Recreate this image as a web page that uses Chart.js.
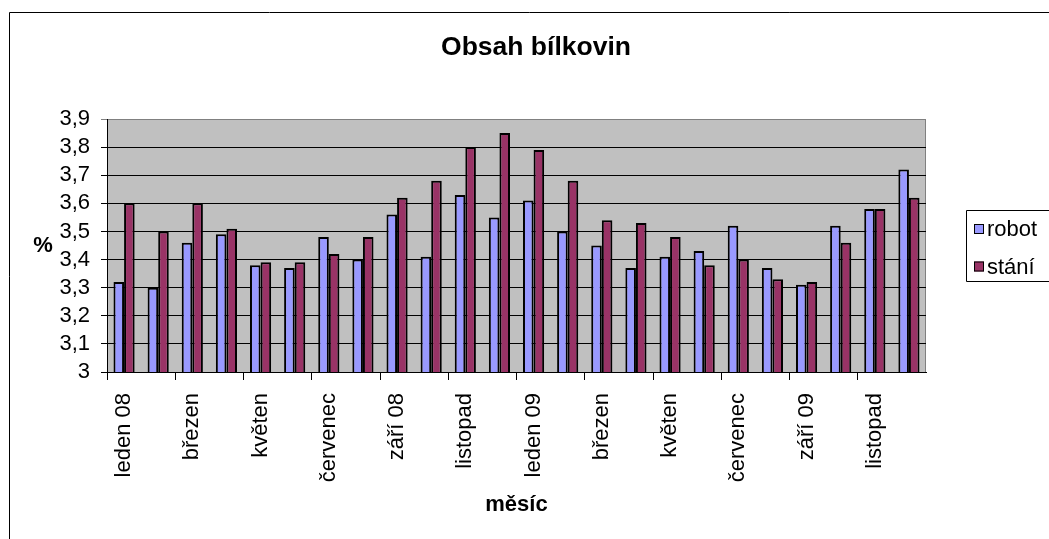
<!DOCTYPE html>
<html lang="cs">
<head>
<meta charset="utf-8">
<title>Obsah bílkovin</title>
<script src="https://cdn.jsdelivr.net/npm/chart.js@4/dist/chart.umd.min.js"></script>
<style>
  html, body { margin: 0; padding: 0; background: #ffffff; overflow: hidden; }
  canvas { display: block; }
</style>
</head>
<body>
<canvas id="chart" width="1049" height="539"></canvas>
<script>
// Měsíce sledovaného období (leden 2008 – prosinec 2009)
const months = [
  'leden 08', 'únor', 'březen', 'duben', 'květen', 'červen',
  'červenec', 'srpen', 'září 08', 'říjen', 'listopad', 'prosinec',
  'leden 09', 'únor', 'březen', 'duben', 'květen', 'červen',
  'červenec', 'srpen', 'září 09', 'říjen', 'listopad', 'prosinec'
];

// Obsah bílkovin v mléce (%) – dojicí robot
const robot = [3.32, 3.30, 3.46, 3.49, 3.38, 3.37, 3.48, 3.40, 3.56, 3.41, 3.63, 3.55,
               3.61, 3.50, 3.45, 3.37, 3.41, 3.43, 3.52, 3.37, 3.31, 3.52, 3.58, 3.72];

// Obsah bílkovin v mléce (%) – dojírna (stání)
const stani = [3.60, 3.50, 3.60, 3.51, 3.39, 3.39, 3.42, 3.48, 3.62, 3.68, 3.80, 3.85,
               3.79, 3.68, 3.54, 3.53, 3.48, 3.38, 3.40, 3.33, 3.32, 3.46, 3.58, 3.62];

const seriesNames = ['robot', 'stání'];
const chartTitle = 'Obsah bílkovin';
const xTitle = 'měsíc';
const yTitle = '%';
const yMin = 3, yMax = 3.9, yStep = 0.1;

const FONT = '"Liberation Sans", Arial, Helvetica, sans-serif';

// Šedé pozadí plochy grafu a její pravý okraj
const plotBackground = {
  id: 'plotBackground',
  beforeDraw(chart) {
    const { ctx, chartArea: a } = chart;
    ctx.save();
    ctx.fillStyle = '#c0c0c0';
    ctx.fillRect(a.left, a.top, a.right - a.left, a.bottom - a.top);
    ctx.strokeStyle = '#808080';
    ctx.lineWidth = 1;
    ctx.beginPath();
    ctx.moveTo(Math.round(a.right) - 0.5, a.top);
    ctx.lineTo(Math.round(a.right) - 0.5, a.bottom);
    ctx.stroke();
    ctx.restore();
  }
};

// Rámeček kolem celého grafu, nadpis, popisek osy Y a legenda s rámečkem
const decorations = {
  id: 'decorations',
  afterDraw(chart) {
    const { ctx, chartArea: a } = chart;
    ctx.save();

    // rámeček grafu
    ctx.strokeStyle = '#000000';
    ctx.lineWidth = 1;
    ctx.beginPath();
    ctx.moveTo(9.5, chart.height + 5);
    ctx.lineTo(9.5, 12.5);
    ctx.lineTo(chart.width + 5, 12.5);
    ctx.stroke();

    // nadpis grafu
    ctx.fillStyle = '#000000';
    ctx.font = 'bold 26.5px ' + FONT;
    ctx.textAlign = 'center';
    ctx.textBaseline = 'middle';
    ctx.fillText(chartTitle, 536, 48);

    // popisek osy Y (nerotovaný)
    ctx.font = 'bold 22px ' + FONT;
    ctx.fillText(yTitle, 43, (a.top + a.bottom) / 2);

    // legenda
    const ds = chart.data.datasets;
    const step = 37.5;
    const boxH = 71;
    const left = Math.round(a.right) + 40;
    const top = Math.round((a.top + a.bottom) / 2 - boxH / 2);
    ctx.beginPath();
    ctx.moveTo(chart.width + 5, top + 0.5);
    ctx.lineTo(left + 0.5, top + 0.5);
    ctx.lineTo(left + 0.5, top + boxH + 0.5);
    ctx.lineTo(chart.width + 5, top + boxH + 0.5);
    ctx.stroke();

    ctx.font = '22px ' + FONT;
    ctx.textAlign = 'left';
    ds.forEach((d, i) => {
      const cy = top + 19 + i * step;
      ctx.fillStyle = d.backgroundColor;
      ctx.fillRect(left + 8, cy - 5, 10, 10);
      ctx.strokeStyle = '#000000';
      ctx.strokeRect(left + 8.5, cy - 4.5, 9, 9);
      ctx.fillStyle = '#000000';
      ctx.fillText(d.label, left + 21, cy + 1);
    });

    ctx.restore();
  }
};

const fmt = v => {
  const r = Math.round(v * 10) / 10;
  return String(r).replace('.', ',');
};

new Chart(document.getElementById('chart'), {
  type: 'bar',
  data: {
    labels: months,
    datasets: [
      {
        label: seriesNames[0],
        data: robot,
        backgroundColor: '#9999ff',
        borderColor: '#000000',
        borderWidth: 2,
        categoryPercentage: 0.62,
        barPercentage: 1.0
      },
      {
        label: seriesNames[1],
        data: stani,
        backgroundColor: '#993366',
        borderColor: '#000000',
        borderWidth: 2,
        categoryPercentage: 0.62,
        barPercentage: 1.0
      }
    ]
  },
  options: {
    responsive: false,
    animation: false,
    devicePixelRatio: 1,
    layout: { padding: { left: 0, right: 123, top: 119, bottom: 0 } },
    plugins: {
      legend: { display: false },
      tooltip: { enabled: false },
      title: { display: false }
    },
    scales: {
      x: {
        type: 'category',
        offset: true,
        border: { display: true, color: '#000000', width: 1 },
        grid: {
          offset: true,
          drawOnChartArea: false,
          drawTicks: true,
          tickLength: 8,
          color: ctx => (ctx.index % 2 === 0 ? '#000000' : 'rgba(0,0,0,0)')
        },
        ticks: {
          autoSkip: false,
          minRotation: 90,
          maxRotation: 90,
          padding: 13,
          color: '#000000',
          font: { family: FONT, size: 22 },
          callback: function (value, index) {
            return index % 2 === 0 ? this.getLabelForValue(value) : '';
          }
        },
        title: {
          display: true,
          text: xTitle,
          color: '#000000',
          font: { family: FONT, size: 22, weight: 'bold' },
          padding: { top: 0, bottom: 21 }
        },
        afterFit(scale) { scale.height = 167; }
      },
      y: {
        min: yMin,
        max: yMax,
        border: { display: true, color: '#000000', width: 1 },
        grid: {
          drawTicks: true,
          tickLength: 6,
          color: ctx => (ctx.tick && Math.abs(ctx.tick.value - yMax) < 1e-6 ? '#808080' : '#000000'),
          lineWidth: 1
        },
        ticks: {
          stepSize: yStep,
          autoSkip: false,
          padding: 11,
          color: '#000000',
          font: { family: FONT, size: 22 },
          callback: v => fmt(v)
        },
        afterFit(scale) { scale.width = 107; }
      }
    }
  },
  plugins: [plotBackground, decorations]
});
</script>
</body>
</html>
